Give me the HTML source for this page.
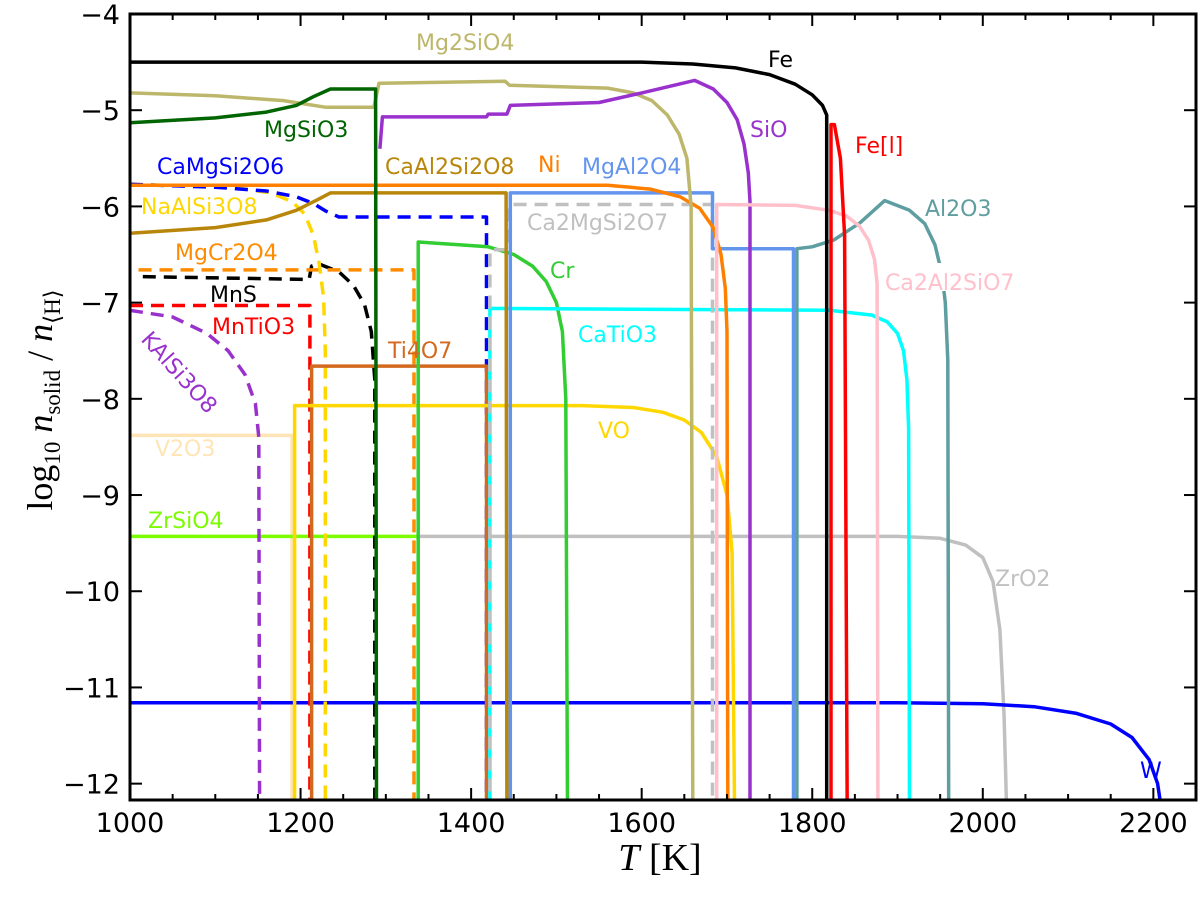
<!DOCTYPE html>
<html><head><meta charset="utf-8">
<style>
html,body{margin:0;padding:0;background:#fff;}
svg{display:block;}
text{font-family:"DejaVu Sans","Liberation Sans",sans-serif;}
</style></head>
<body>
<svg id="chart" width="1200" height="899" viewBox="0 0 1200 899" xmlns="http://www.w3.org/2000/svg">
<defs><clipPath id="plotclip"><rect x="130" y="14" width="1066" height="786"/></clipPath></defs>
<g id="series" clip-path="url(#plotclip)"></g>
<g id="labels"></g>
<rect x="130" y="14" width="1066" height="786" fill="none" stroke="#000" stroke-width="3"/>
<g id="axes"></g>
<text x="52" y="400" transform="rotate(-90 52 400)" text-anchor="middle" font-size="36" style="font-family:'Liberation Serif',serif">log<tspan font-size="23" dy="8">10</tspan><tspan dy="-8" font-style="italic"> n</tspan><tspan font-size="23" dy="8">solid</tspan><tspan dy="-8"> / </tspan><tspan font-style="italic">n</tspan><tspan font-size="23" dy="8">⟨H⟩</tspan></text>
<text x="660" y="870" text-anchor="middle" font-size="38" style="font-family:'Liberation Serif',serif"><tspan font-style="italic">T</tspan> [K]</text>
</svg>
<script>
const xDomain = [1000, 2250];
const yDomain = [-12.17, -4];
const xTicks = [1000, 1200, 1400, 1600, 1800, 2000, 2200];
const xTickLabels = ["1000", "1200", "1400", "1600", "1800", "2000", "2200"];
const yTicks = [-4, -5, -6, -7, -8, -9, -10, -11, -12];
const yTickLabels = ["−4", "−5", "−6", "−7", "−8", "−9", "−10", "−11", "−12"];

const seriesNames = ["V2O3","ZrSiO4","ZrO2","W","KAlSi3O8","MnTiO3","MnS","MgCr2O4","NaAlSi3O8","CaMgSi2O6","Ti4O7","VO","Cr","CaTiO3","Ca2MgSi2O7","MgAl2O4","CaAl2Si2O8","Ni","Mg2SiO4","MgSiO3","SiO","Al2O3","Ca2Al2SiO7","FeL","Fe"];
const seriesColors = ["#FFE4B5","#7CFC00","#C0C0C0","#0000FF","#9932CC","#FF0000","#000000","#FF8C00","#FFD700","#0000FF","#D2691E","#FFD700","#32CD32","#00FFFF","#C0C0C0","#6495ED","#B8860B","#FF8000","#BDB76B","#006400","#9932CC","#5F9EA0","#FFC0CB","#FF0000","#000000"];
const seriesDashed = [false,false,false,false,true,true,true,true,true,true,false,false,false,false,true,false,false,false,false,false,false,false,false,false,false];

const V2O3T = [1000,1190,1190];
const V2O3V = [-8.38,-8.38,-12.3];
const ZrSiO4T = [1000,1338,1338];
const ZrSiO4V = [-9.43,-9.43,-12.3];
const ZrO2T = [1338,1900,1950,1980,2000,2012,2020,2025,2028];
const ZrO2V = [-9.43,-9.43,-9.45,-9.52,-9.65,-9.9,-10.4,-11.3,-12.3];
const WT = [1000,1900,2000,2060,2110,2150,2175,2195,2205,2210];
const WV = [-11.16,-11.16,-11.17,-11.2,-11.27,-11.38,-11.52,-11.75,-12.0,-12.3];
const KAlSi3O8T = [1000,1050,1090,1115,1135,1147,1151,1152];
const KAlSi3O8V = [-7.08,-7.15,-7.32,-7.5,-7.75,-8.05,-8.4,-12.3];
const MnTiO3T = [1000,1211,1211];
const MnTiO3V = [-7.03,-7.03,-12.3];
const MnST = [1015,1210,1213,1222,1245,1262,1275,1283,1287,1287];
const MnSV = [-6.73,-6.76,-6.62,-6.6,-6.68,-6.82,-7.02,-7.3,-7.8,-12.3];
const MgCr2O4T = [1010,1333,1333];
const MgCr2O4V = [-6.66,-6.66,-12.3];
const NaAlSi3O8T = [1000,1120,1165,1190,1205,1215,1222,1227,1229,1229];
const NaAlSi3O8V = [-5.77,-5.8,-5.86,-5.95,-6.08,-6.3,-6.6,-6.95,-7.5,-12.3];
const CaMgSi2O6T = [1000,1100,1160,1195,1215,1230,1245,1418,1418];
const CaMgSi2O6V = [-5.77,-5.8,-5.84,-5.9,-5.97,-6.05,-6.11,-6.11,-12.3];
const Ti4O7T = [1213,1213,1418,1418];
const Ti4O7V = [-12.3,-7.66,-7.66,-12.3];
const VOT = [1193,1193,1530,1590,1625,1650,1670,1688,1700,1706,1709];
const VOV = [-12.3,-8.07,-8.07,-8.09,-8.14,-8.22,-8.35,-8.6,-9.0,-9.6,-12.3];
const CrT = [1338,1338,1420,1450,1472,1488,1500,1507,1511,1513];
const CrV = [-12.3,-6.37,-6.42,-6.5,-6.62,-6.78,-7.0,-7.3,-8.0,-12.3];
const CaTiO3T = [1422,1422,1820,1870,1888,1900,1907,1911,1913,1914];
const CaTiO3V = [-12.3,-7.06,-7.08,-7.13,-7.2,-7.32,-7.5,-7.8,-8.3,-12.3];
const Ca2MgSi2O7T = [1422,1422,1443,1445,1683,1683];
const Ca2MgSi2O7V = [-12.3,-6.45,-6.45,-5.98,-5.98,-12.3];
const MgAl2O4T = [1446,1446,1683,1683,1778,1778];
const MgAl2O4V = [-12.3,-5.86,-5.86,-6.44,-6.44,-12.3];
const CaAl2Si2O8T = [1000,1100,1160,1195,1220,1235,1441,1442];
const CaAl2Si2O8V = [-6.28,-6.22,-6.14,-6.04,-5.93,-5.86,-5.86,-12.3];
const NiT = [1000,1560,1610,1645,1668,1684,1693,1698,1700,1701];
const NiV = [-5.78,-5.78,-5.82,-5.9,-6.02,-6.22,-6.5,-6.85,-7.3,-12.3];
const Mg2SiO4T = [1000,1100,1180,1230,1286,1292,1440,1445,1560,1590,1612,1630,1644,1653,1658,1660];
const Mg2SiO4V = [-4.82,-4.85,-4.9,-4.97,-4.97,-4.72,-4.7,-4.74,-4.77,-4.82,-4.9,-5.05,-5.25,-5.5,-6.0,-12.3];
const MgSiO3T = [1000,1100,1160,1195,1215,1235,1288,1289];
const MgSiO3V = [-5.13,-5.08,-5.02,-4.95,-4.86,-4.78,-4.78,-12.3];
const SiOT = [1293,1296,1418,1420,1442,1446,1550,1600,1662,1684,1700,1712,1720,1725,1727,1727];
const SiOV = [-5.4,-5.07,-5.07,-5.04,-5.04,-4.95,-4.92,-4.82,-4.69,-4.78,-4.92,-5.1,-5.35,-5.65,-5.95,-12.3];
const Al2O3T = [1782,1782,1800,1825,1856,1885,1914,1932,1944,1952,1956,1959,1960];
const Al2O3V = [-12.3,-6.44,-6.42,-6.35,-6.17,-5.94,-6.04,-6.18,-6.4,-6.7,-7.0,-7.6,-12.3];
const Ca2Al2SiO7T = [1688,1688,1780,1820,1840,1855,1866,1873,1876,1877];
const Ca2Al2SiO7V = [-12.3,-5.98,-5.99,-6.04,-6.1,-6.2,-6.35,-6.55,-6.8,-12.3];
const FeLT = [1822,1822,1826,1833,1838,1841];
const FeLV = [-12.3,-5.15,-5.15,-5.5,-6.3,-12.3];
const FeT = [1000,1600,1660,1710,1750,1780,1800,1812,1817,1817];
const FeV = [-4.5,-4.5,-4.52,-4.56,-4.63,-4.73,-4.84,-4.95,-5.05,-12.3];

const seriesT = [V2O3T,ZrSiO4T,ZrO2T,WT,KAlSi3O8T,MnTiO3T,MnST,MgCr2O4T,NaAlSi3O8T,CaMgSi2O6T,Ti4O7T,VOT,CrT,CaTiO3T,Ca2MgSi2O7T,MgAl2O4T,CaAl2Si2O8T,NiT,Mg2SiO4T,MgSiO3T,SiOT,Al2O3T,Ca2Al2SiO7T,FeLT,FeT];
const seriesV = [V2O3V,ZrSiO4V,ZrO2V,WV,KAlSi3O8V,MnTiO3V,MnSV,MgCr2O4V,NaAlSi3O8V,CaMgSi2O6V,Ti4O7V,VOV,CrV,CaTiO3V,Ca2MgSi2O7V,MgAl2O4V,CaAl2Si2O8V,NiV,Mg2SiO4V,MgSiO3V,SiOV,Al2O3V,Ca2Al2SiO7V,FeLV,FeV];

const PL = 130, PR = 1196, PT = 14, PB = 800;
function xs(t){ return PL + (t - xDomain[0]) / (xDomain[1] - xDomain[0]) * (PR - PL); }
function ys(v){ return PT + (yDomain[1] - v) / (yDomain[1] - yDomain[0]) * (PB - PT); }
const NS = "http://www.w3.org/2000/svg";
const gS = document.getElementById('series');
for (let i = 0; i < seriesNames.length; i++) {
  const p = document.createElementNS(NS, 'path');
  let d = '';
  seriesT[i].forEach((t, j) => { d += (j ? 'L' : 'M') + xs(t).toFixed(1) + ' ' + ys(seriesV[i][j]).toFixed(1); });
  p.setAttribute('d', d);
  p.setAttribute('fill', 'none');
  p.setAttribute('stroke', seriesColors[i]);
  p.setAttribute('stroke-width', '3.5');
  p.setAttribute('stroke-linejoin', 'round');
  if (seriesDashed[i]) p.setAttribute('stroke-dasharray', '13 8');
  
  
  gS.appendChild(p);
}

const gA = document.getElementById('axes');
function mk(tag, attrs){ const e = document.createElementNS(NS, tag); for (const k in attrs) e.setAttribute(k, attrs[k]); return e; }
for (let t = 1000; t <= 2250; t += 50) {
  const major = (t % 200 === 0);
  const len = major ? 12 : 6;
  const x = xs(t);
  const l1 = mk('line', {x1:x, x2:x, y1:PB, y2:PB-len, stroke:'#000', 'stroke-width':2});
  
  
  gA.appendChild(l1);
  const l2 = mk('line', {x1:x, x2:x, y1:PT, y2:PT+len, stroke:'#000', 'stroke-width':2});
  
  
  gA.appendChild(l2);
}
xTicks.forEach((t, i) => {
  const tx = mk('text', {x:xs(t), y:832, 'text-anchor':'middle', 'font-size':27});
  tx.textContent = xTickLabels[i];
  
  
  gA.appendChild(tx);
});
yTicks.forEach((v, i) => {
  const y = ys(v);
  const l1 = mk('line', {x1:PL, x2:PL+12, y1:y, y2:y, stroke:'#000', 'stroke-width':2});
  
  
  gA.appendChild(l1);
  const l2 = mk('line', {x1:PR, x2:PR-12, y1:y, y2:y, stroke:'#000', 'stroke-width':2});
  
  
  gA.appendChild(l2);
  const tx = mk('text', {x:120, y:y+10, 'text-anchor':'end', 'font-size':27});
  tx.textContent = yTickLabels[i];
  
  
  gA.appendChild(tx);
});
</script>
<svg style="position:absolute;left:0;top:0" width="1200" height="899">
<g font-size="22" style="font-family:'DejaVu Sans','Liberation Sans',sans-serif">
<text x="416" y="50" fill="#BDB76B">Mg2SiO4</text>
<text x="768" y="67" fill="#000">Fe</text>
<text x="264" y="137" fill="#006400">MgSiO3</text>
<text x="750" y="137" fill="#9932CC">SiO</text>
<text x="855" y="153" fill="#FF0000">Fe[l]</text>
<text x="157" y="174" fill="#0000FF">CaMgSi2O6</text>
<text x="385" y="174" fill="#B8860B">CaAl2Si2O8</text>
<text x="538" y="172" fill="#FF8000">Ni</text>
<text x="582" y="174" fill="#6495ED">MgAl2O4</text>
<text x="141" y="214" fill="#FFD700">NaAlSi3O8</text>
<rect x="526" y="211" width="152" height="25" fill="#fff"/>
<text x="527" y="230" fill="#C0C0C0">Ca2MgSi2O7</text>
<text x="925" y="216" fill="#5F9EA0">Al2O3</text>
<text x="175" y="260" fill="#FF8C00">MgCr2O4</text>
<text x="550" y="278" fill="#32CD32">Cr</text>
<rect x="883" y="263" width="145" height="28" fill="#fff"/>
<text x="885" y="290" fill="#FFC0CB">Ca2Al2SiO7</text>
<text x="210" y="302" fill="#000">MnS</text>
<text x="212" y="334" fill="#FF0000">MnTiO3</text>
<text x="578" y="342" fill="#00FFFF">CaTiO3</text>
<text x="388" y="358" fill="#D2691E">Ti4O7</text>
<text x="140" y="340" fill="#9932CC" transform="rotate(48 140 340)">KAlSi3O8</text>
<text x="598" y="438" fill="#FFD700">VO</text>
<text x="155" y="456" fill="#FFE4B5">V2O3</text>
<text x="148" y="528" fill="#7CFC00">ZrSiO4</text>
<text x="995" y="586" fill="#C0C0C0">ZrO2</text>
<text x="1140" y="778" fill="#0000FF">W</text>
</g>
</svg>
</body></html>
